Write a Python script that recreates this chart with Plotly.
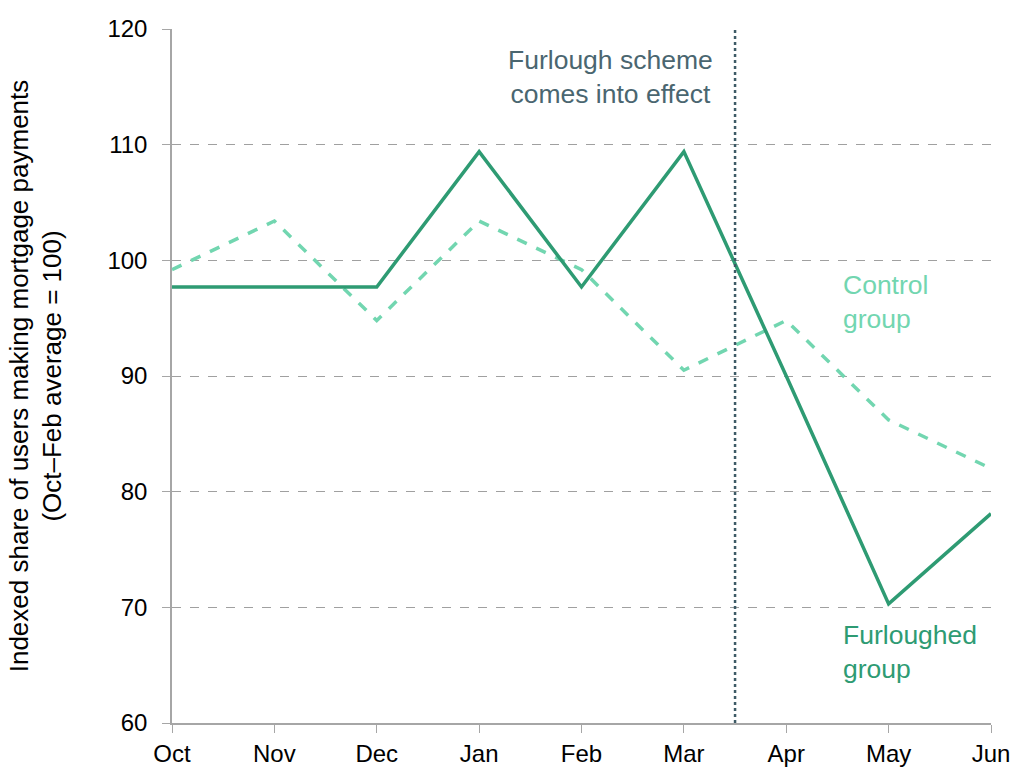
import plotly.graph_objects as go

months = ["Oct", "Nov", "Dec", "Jan", "Feb", "Mar", "Apr", "May", "Jun"]
furloughed = [97.7, 97.7, 97.7, 109.4, 97.7, 109.4, 90.0, 70.3, 78.1]
control = [99.2, 103.4, 94.8, 103.4, 99.2, 90.5, 94.8, 86.2, 82.0]
y_ticks = [60, 70, 80, 90, 100, 110, 120]
scheme_start = 5.5  # between Mar and Apr

FONT = "Liberation Sans, Arial, sans-serif"
x = list(range(len(months)))

fig = go.Figure()
fig.add_trace(go.Scatter(x=x, y=control, mode="lines", name="Control group",
                         line=dict(color="#72d6b0", width=3.5, dash="dash")))
fig.add_trace(go.Scatter(x=x, y=furloughed, mode="lines", name="Furloughed group",
                         line=dict(color="#2e9b73", width=3.5)))

fig.add_shape(type="line", x0=scheme_start, x1=scheme_start, y0=60, y1=120,
              xref="x", yref="y", line=dict(color="#3d5a66", width=2.5, dash="dot"))

fig.add_annotation(x=scheme_start - 0.2, y=115.85, xref="x", yref="y",
                   text="Furlough scheme<br>comes into effect", showarrow=False,
                   xanchor="right", yanchor="middle", align="center",
                   font=dict(family=FONT, size=26.5, color="#4a6670"))
fig.add_annotation(x=6.53, y=96.4, xref="x", yref="y",
                   text="Control<br>group", showarrow=False,
                   xanchor="left", yanchor="middle", align="left",
                   font=dict(family=FONT, size=26.5, color="#72d6b0"))
fig.add_annotation(x=6.53, y=66.1, xref="x", yref="y",
                   text="Furloughed<br>group", showarrow=False,
                   xanchor="left", yanchor="middle", align="left",
                   font=dict(family=FONT, size=26.5, color="#2e9b73"))

fig.update_layout(
    width=1014, height=769,
    margin=dict(l=172, r=23, t=29, b=46, autoexpand=False),
    plot_bgcolor="white", paper_bgcolor="white",
    showlegend=False,
    font=dict(family=FONT, size=24, color="#000000"),
    xaxis=dict(range=[0, 8], tickmode="array", tickvals=x, ticktext=months,
               automargin=False,
               showgrid=False, zeroline=False, showline=True, linecolor="#a6a6a6",
               linewidth=1.5, ticks="outside", ticklen=8, tickcolor="#a6a6a6",
               tickfont=dict(family=FONT, size=24, color="#000000")),
    yaxis=dict(range=[60, 120], tickmode="array", tickvals=y_ticks,
               automargin=False, ticklabelstandoff=10,
               showgrid=True, gridcolor="#a0a0a0", griddash="dash", gridwidth=1,
               zeroline=False, showline=True, linecolor="#a6a6a6", linewidth=1.5,
               ticks="outside", ticklen=8, tickcolor="#a6a6a6",
               tickfont=dict(family=FONT, size=24, color="#000000"),
               title=dict(text="Indexed share of users making mortgage payments<br>(Oct–Feb average = 100)",
                          font=dict(family=FONT, size=26, color="#000000"), standoff=38)),
)

fig.write_html(
    "out.html",
    config={"displayModeBar": False},
    post_script=(
        "document.documentElement.style.margin='0';"
        "document.documentElement.style.overflow='hidden';"
        "document.body.style.margin='0';"
        "document.body.style.overflow='hidden';"
    ),
)
